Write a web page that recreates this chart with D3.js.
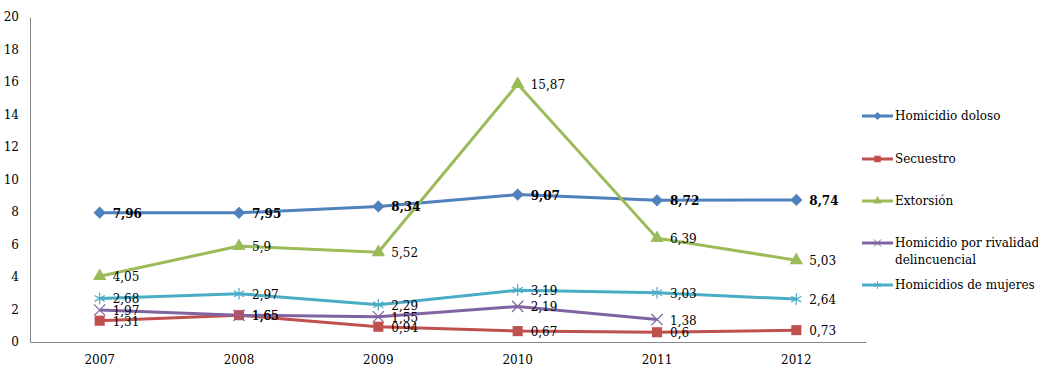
<!DOCTYPE html>
<html>
<head>
<meta charset="utf-8">
<script src="https://cdn.jsdelivr.net/npm/d3@7"></script>
<style>
  body { margin: 0; background: #fff; }
  svg text { font-family: "DejaVu Serif", serif; fill: #000; }
</style>
</head>
<body>
<svg id="chart" width="1038" height="372"></svg>
<script>
(function() {
    'use strict';

    // Data
    var years = ["2007", "2008", "2009", "2010", "2011", "2012"];
    var yTicks = [0, 2, 4, 6, 8, 10, 12, 14, 16, 18, 20];

    var homicidioDoloso = [7.96, 7.95, 8.34, 9.07, 8.72, 8.74];
    var secuestro = [1.31, 1.65, 0.94, 0.67, 0.6, 0.73];
    var extorsion = [4.05, 5.9, 5.52, 15.87, 6.39, 5.03];
    var rivalidad = [1.97, 1.65, 1.55, 2.19, 1.38, null];
    var mujeres = [2.68, 2.97, 2.29, 3.19, 3.03, 2.64];

    var seriesNames = ["Homicidio doloso", "Secuestro", "Extorsión",
        "Homicidio por rivalidad delincuencial", "Homicidios de mujeres"];

    var series = [
        { name: seriesNames[0], values: homicidioDoloso, color: "#4F81BD", marker: "diamond", bold: true },
        { name: seriesNames[1], values: secuestro, color: "#C0504D", marker: "square" },
        { name: seriesNames[2], values: extorsion, color: "#9BBB59", marker: "triangle" },
        { name: seriesNames[3], values: rivalidad, color: "#8064A2", marker: "x" },
        { name: seriesNames[4], values: mujeres, color: "#4BACC6", marker: "star" }
    ];

    // Layout
    var svg = d3.select("#chart");
    var layout = { left: 30, right: 866, top: 17, bottom: 342 };

    var xScale = d3.scaleBand()
        .domain(years)
        .range([layout.left, layout.right]);

    var yScale = d3.scaleLinear()
        .domain([0, 20])
        .range([layout.bottom, layout.top]);

    var fmt = function(v) { return String(v).replace(".", ","); };

    // Axes
    var yAxis = d3.axisLeft(yScale).tickValues(yTicks).tickSize(0).tickPadding(11);
    var gy = svg.append("g")
        .attr("transform", "translate(" + layout.left + ",0)")
        .call(yAxis);
    gy.select(".domain").attr("stroke", "#868686").attr("stroke-width", 1);
    gy.selectAll("text").attr("font-size", 12).attr("font-family", "DejaVu Serif");

    var xAxis = d3.axisBottom(xScale).tickSize(0).tickPadding(13);
    var gx = svg.append("g")
        .attr("transform", "translate(0," + layout.bottom + ")")
        .call(xAxis);
    gx.select(".domain").attr("stroke", "#868686").attr("stroke-width", 1);
    gx.selectAll("text").attr("font-size", 12).attr("font-family", "DejaVu Serif");

    var cx = function(i) { return xScale(years[i]) + xScale.bandwidth() / 2; };

    var markerPath = function(type, s) {
        if (type === "diamond") return d3.symbol().type(d3.symbolDiamond2).size(s * 8)();
        if (type === "square") return d3.symbol().type(d3.symbolSquare).size(s * 8.5)();
        if (type === "triangle") return d3.symbol().type(d3.symbolTriangle).size(s * 6.5)();
        if (type === "x") return d3.symbol().type(d3.symbolX).size(s * 7)();
        return d3.symbol().type(d3.symbolAsterisk).size(s * 8)();
    };

    var line = d3.line()
        .defined(function(d) { return d !== null; })
        .x(function(d, i) { return cx(i); })
        .y(function(d) { return yScale(d); });

    // Lines
    series.forEach(function(s) {
        svg.append("path")
            .attr("d", line(s.values))
            .attr("fill", "none")
            .attr("stroke", s.color)
            .attr("stroke-width", 3);
    });

    // Markers
    series.forEach(function(s) {
        s.values.forEach(function(v, i) {
            if (v === null) return;
            var open = s.marker === "x" || s.marker === "star";
            svg.append("path")
                .attr("d", markerPath(s.marker, 12))
                .attr("transform", "translate(" + cx(i) + "," + yScale(v) + ")")
                .attr("fill", open ? "none" : s.color)
                .attr("stroke", s.color)
                .attr("stroke-width", open ? 1.2 : 0);
        });
    });

    // Labels
    series.forEach(function(s) {
        s.values.forEach(function(v, i) {
            if (v === null) return;
            svg.append("text")
                .attr("x", cx(i) + 13)
                .attr("y", yScale(v) + 5)
                .attr("font-size", 12)
                .attr("font-weight", s.bold ? "bold" : "normal")
                .text(fmt(v));
        });
    });

    // Legend
    var legendY = [116, 159, 201, 243, 285];
    series.forEach(function(s, i) {
        var g = svg.append("g").attr("transform", "translate(862," + legendY[i] + ")");
        g.append("line")
            .attr("x1", 0).attr("x2", 31)
            .attr("stroke", s.color).attr("stroke-width", 3);
        var open = s.marker === "x" || s.marker === "star";
        g.append("path")
            .attr("d", markerPath(s.marker, 5))
            .attr("transform", "translate(15.5,0)")
            .attr("fill", open ? "none" : s.color)
            .attr("stroke", s.color)
            .attr("stroke-width", open ? 1 : 0);
        var t = g.append("text")
            .attr("x", 33)
            .attr("y", 4)
            .attr("font-size", 12);
        if (i === 3) {
            t.append("tspan").attr("x", 33).text("Homicidio por rivalidad");
            t.append("tspan").attr("x", 33).attr("dy", 17).text("delincuencial");
        } else {
            t.text(s.name);
        }
    });
})();
</script>
</body>
</html>
